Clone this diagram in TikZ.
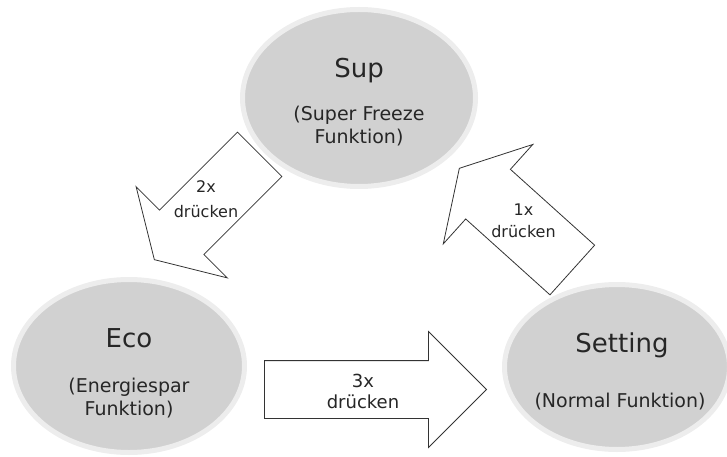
\documentclass[tikz,border=0pt]{standalone}
\usepackage{fontspec}
\setmainfont{DejaVu Sans}
\usetikzlibrary{shapes.geometric,shapes.arrows}

\begin{document}
\begin{tikzpicture}[x=1pt,y=-1pt]
  \tikzstyle{every node}=[text=black!85]
  \tikzstyle{modebox}=[ellipse, fill=black!18, draw=black!7, line width=5pt, inner sep=0pt]
  \tikzstyle{modetitle}=[font=\fontsize{26}{30}\selectfont, anchor=base]
  \tikzstyle{modesub}=[font=\fontsize{19}{22.5}\selectfont, align=center, anchor=base]
  \tikzstyle{press}=[single arrow, draw=black!80, fill=white, line width=0.8pt, inner xsep=0pt, anchor=tip]
  \tikzstyle{presslabel}=[align=center, anchor=base]

  \useasboundingbox (0,0) rectangle (727,457);

  \node[modebox, minimum width=233pt, minimum height=177pt] (sup)     at (359,98)  {};
  \node[modebox, minimum width=231pt, minimum height=173pt] (eco)     at (129,366) {};
  \node[modebox, minimum width=225pt, minimum height=165pt] (setting) at (617,367) {};

  \node[modetitle] (sup-title)     at (359,78)  {Sup};
  \node[modesub]   (sup-sub)       at (359,143) {(Super Freeze\\Funktion)};
  \node[modetitle] (eco-title)     at (129,347) {Eco};
  \node[modesub]   (eco-sub)       at (129,415) {(Energiespar\\Funktion)};
  \node[modetitle] (setting-title) at (622,352) {Setting};
  \node[modesub]   (setting-sub)   at (620,407) {(Normal Funktion)};

  \node[press, rotate=225, inner ysep=31pt, minimum height=149pt, minimum width=128pt,
        single arrow head extend=33pt, single arrow tip angle=118] (sup-eco) at (154,260) {};
  \node[press, rotate=138, inner ysep=33pt, minimum height=152pt, minimum width=133pt,
        single arrow head extend=33.5pt, single arrow tip angle=120] (setting-sup) at (459,168) {};
  \node[press, inner ysep=28.5pt, minimum height=222pt, minimum width=115pt,
        single arrow head extend=29pt, single arrow tip angle=90] (eco-setting) at (487,389.5) {};

  \node[presslabel, font=\fontsize{16}{25}\selectfont] (sup-eco-label)     at (206,217)   {2x\\drücken};
  \node[presslabel, font=\fontsize{16}{22}\selectfont] (setting-sup-label) at (523.5,237) {1x\\drücken};
  \node[presslabel, font=\fontsize{18}{21}\selectfont] (eco-setting-label) at (363,408)   {3x\\drücken};
\end{tikzpicture}
\end{document}
